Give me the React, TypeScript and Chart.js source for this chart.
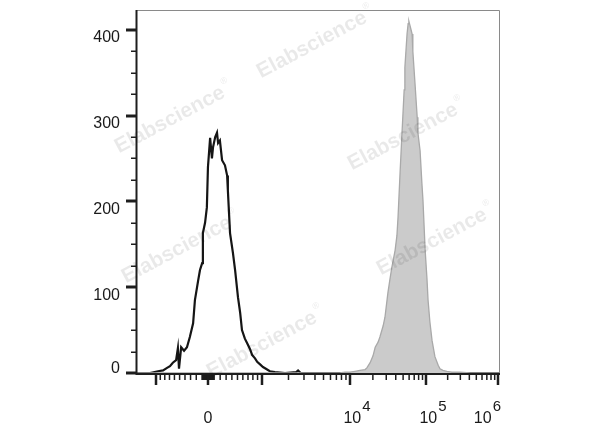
import React, { useEffect, useRef } from "react";
import { Chart, registerables } from "chart.js";

Chart.register(...registerables);

// ---- Data (display channel 0..1000 on a biexponential axis, counts) ----
const blackChannels = [0, 36, 58, 72, 83, 91, 99, 108, 113, 116, 122, 130, 138, 146, 155, 160, 169, 174, 180, 182, 188, 193, 196, 202, 207, 210, 216, 221, 224, 229, 235, 243, 249, 251, 257, 265, 271, 279, 285, 290, 298, 304, 312, 318, 326, 332, 340, 348, 356, 367, 381, 409, 440, 445, 452, 530, 1000];
const blackCounts = [0, 0, 2, 3, 6, 8, 12, 15, 29, 5, 30, 26, 30, 42, 58, 85, 108, 120, 128, 163, 175, 193, 240, 274, 250, 263, 275, 280, 268, 271, 248, 242, 230, 213, 163, 140, 120, 88, 70, 50, 40, 35, 28, 21, 17, 13, 10, 7, 5, 2, 1, 0, 1, 3, 0, 0, 0];

const grayChannels = [0, 560, 575, 588, 602, 616, 630, 635, 644, 652, 658, 666, 671, 680, 685, 693, 699, 704, 713, 718, 721, 727, 732, 738, 740, 746, 749, 751, 754, 757, 760, 762, 768, 774, 776, 782, 787, 790, 796, 801, 804, 809, 815, 823, 832, 837, 845, 856, 870, 892, 920, 1000];
const grayCounts = [0, 0, 1, 1, 2, 3, 4, 6, 12, 20, 30, 36, 42, 55, 65, 93, 110, 123, 143, 160, 181, 236, 279, 330, 356, 395, 407, 410, 405, 400, 395, 375, 337, 298, 280, 259, 221, 201, 143, 110, 85, 60, 38, 19, 9, 5, 3, 2, 1, 1, 0, 0];

const yMajorTicks = [0, 100, 200, 300, 400];
const yMinorTicks = [25, 50, 75, 125, 150, 175, 225, 250, 275, 325, 350, 375];
const yMax = 423;

const xMajorValues = [-1000, 0, 1000, 10000, 100000, 1000000];
const xLabelValues = [0, 10000, 100000, 1000000];
const xLabelBases = ["0", "10", "10", "10"];
const xLabelExponents = ["", "4", "5", "6"];

// axis anchors for the biexponential display (value -> display channel)
const anchorValues = [-1000, 0, 1000, 10000, 100000, 1000000];
const anchorChannels = [52.5, 196.1, 345.3, 588.4, 798.3, 997.2];
const linearWidth = 1000;

const watermarkCenters: [number, number][] = [
  [170, 120],
  [312, 45],
  [403, 137],
  [177, 250],
  [432, 242],
  [262, 345],
];

function toChannel(v: number): number {
  const c0 = anchorChannels[1];
  if (v <= 1000) {
    const u = Math.asinh(v / linearWidth) / Math.asinh(1000 / linearWidth);
    return v >= 0 ? c0 + u * (anchorChannels[2] - c0) : c0 + u * (c0 - anchorChannels[0]);
  }
  const lg = Math.log10(v);
  let k = Math.floor(lg + 1e-9);
  if (k > 5) k = 5;
  const frac = lg - k;
  const i = k - 3 + 2;
  return anchorChannels[i] + frac * (anchorChannels[i + 1] - anchorChannels[i]);
}

function minorXValues(): number[] {
  const out: number[] = [];
  for (let m = 1; m <= 9; m++) {
    out.push(-m * 100, -m * 10, m * 10, m * 100);
  }
  for (const dec of [1000, 10000, 100000]) {
    for (let m = 2; m <= 9; m++) out.push(m * dec);
  }
  return out.filter((v) => Math.abs(v) !== 1000);
}

const FONT = "'Liberation Sans', Arial, Helvetica, sans-serif";

const flowAxes = {
  id: "flowAxes",
  afterDraw(chart: any) {
    const ctx: CanvasRenderingContext2D = chart.ctx;
    const { left, right, top, bottom } = chart.chartArea;
    const xs = chart.scales.x;
    const ys = chart.scales.y;
    ctx.save();

    // frame top / right
    ctx.strokeStyle = "#8a8a8a";
    ctx.lineWidth = 1;
    ctx.beginPath();
    ctx.moveTo(left, top + 0.5);
    ctx.lineTo(right + 0.5, top + 0.5);
    ctx.lineTo(right + 0.5, bottom);
    ctx.stroke();

    // left / bottom axis
    ctx.strokeStyle = "#1e1e1e";
    ctx.lineWidth = 2;
    ctx.beginPath();
    ctx.moveTo(left - 0.5, top);
    ctx.lineTo(left - 0.5, bottom + 1);
    ctx.lineTo(right + 1, bottom + 1);
    ctx.stroke();

    // y ticks
    for (const v of yMajorTicks) {
      const y = Math.round(ys.getPixelForValue(v));
      ctx.lineWidth = 3;
      ctx.beginPath();
      ctx.moveTo(left - 11, y);
      ctx.lineTo(left - 1, y);
      ctx.stroke();
    }
    ctx.lineWidth = 1.5;
    for (const v of yMinorTicks) {
      const y = Math.round(ys.getPixelForValue(v)) + 0.25;
      ctx.beginPath();
      ctx.moveTo(left - 6, y);
      ctx.lineTo(left - 1, y);
      ctx.stroke();
    }

    // x ticks
    const base = bottom + 2;
    ctx.lineWidth = 1.5;
    for (const v of minorXValues()) {
      const x = xs.getPixelForValue(toChannel(v));
      ctx.beginPath();
      ctx.moveTo(x, base);
      ctx.lineTo(x, base + 5);
      ctx.stroke();
    }
    ctx.lineWidth = 2.5;
    for (const v of xMajorValues) {
      const x = xs.getPixelForValue(toChannel(v));
      ctx.beginPath();
      ctx.moveTo(x, base);
      ctx.lineTo(x, base + 10);
      ctx.stroke();
    }

    // y labels
    ctx.fillStyle = "#1a1a1a";
    ctx.font = `16px ${FONT}`;
    ctx.textAlign = "right";
    for (const v of yMajorTicks) {
      const y = ys.getPixelForValue(v);
      if (v === 0) {
        ctx.textBaseline = "alphabetic";
        ctx.fillText(String(v), left - 17, y);
      } else {
        ctx.textBaseline = "alphabetic";
        ctx.fillText(String(v), left - 17, y + 12.5);
      }
    }

    // x labels
    ctx.textAlign = "left";
    ctx.textBaseline = "alphabetic";
    xLabelValues.forEach((v, i) => {
      const tx = xs.getPixelForValue(toChannel(v));
      const b = xLabelBases[i];
      const e = xLabelExponents[i];
      ctx.font = `16px ${FONT}`;
      const wb = ctx.measureText(b).width;
      ctx.font = `15px ${FONT}`;
      const we = e ? ctx.measureText(e).width + 1 : 0;
      const total = wb + we;
      let cx = e ? tx + 7 : tx;
      if (cx + total / 2 > right + 2) cx = right + 2 - total / 2;
      const x0 = cx - total / 2;
      ctx.font = `16px ${FONT}`;
      ctx.fillText(b, x0, 423);
      if (e) {
        ctx.font = `15px ${FONT}`;
        ctx.fillText(e, x0 + wb + 1, 411);
      }
    });

    // watermark
    ctx.fillStyle = "rgba(0,0,0,0.085)";
    for (const [cx, cy] of watermarkCenters) {
      ctx.save();
      ctx.translate(cx, cy);
      ctx.rotate((-28 * Math.PI) / 180);
      ctx.font = `bold 21px ${FONT}`;
      ctx.textAlign = "center";
      ctx.textBaseline = "middle";
      ctx.fillText("Elabscience", 0, 0);
      const w = ctx.measureText("Elabscience").width;
      ctx.font = `9px ${FONT}`;
      ctx.textAlign = "left";
      ctx.fillText("®", w / 2 + 2, -9);
      ctx.restore();
    }

    ctx.restore();
  },
};

export default function App() {
  const ref = useRef<HTMLCanvasElement | null>(null);

  useEffect(() => {
    document.body.style.margin = "0";
    if (!ref.current) return;
    const chart = new Chart(ref.current, {
      type: "line",
      data: {
        datasets: [
          {
            label: "stained",
            data: grayChannels.map((c, i) => ({ x: c, y: grayCounts[i] })),
            borderColor: "#a9a9a9",
            backgroundColor: "#cbcbcb",
            borderWidth: 1.3,
            fill: "origin",
            pointRadius: 0,
            tension: 0,
          },
          {
            label: "control",
            data: blackChannels.map((c, i) => ({ x: c, y: blackCounts[i] })),
            borderColor: "#151515",
            backgroundColor: "rgba(0,0,0,0)",
            borderWidth: 2.2,
            fill: false,
            pointRadius: 0,
            tension: 0,
          },
        ],
      },
      options: {
        animation: false,
        responsive: false,
        devicePixelRatio: 1,
        layout: { padding: { left: 0, right: 101, top: 10, bottom: 0 } },
        plugins: { legend: { display: false }, tooltip: { enabled: false } },
        scales: {
          x: {
            type: "linear",
            min: 0,
            max: 1000,
            grid: { display: false },
            border: { display: false },
            ticks: { display: false },
            afterFit: (s: any) => {
              s.height = 54;
            },
          },
          y: {
            type: "linear",
            min: 0,
            max: yMax,
            grid: { display: false },
            border: { display: false },
            ticks: { display: false },
            afterFit: (s: any) => {
              s.width = 137;
            },
          },
        },
      },
      plugins: [flowAxes],
    });
    return () => chart.destroy();
  }, []);

  return <canvas ref={ref} width={600} height={427} style={{ display: "block", width: 600, height: 427 }} />;
}
